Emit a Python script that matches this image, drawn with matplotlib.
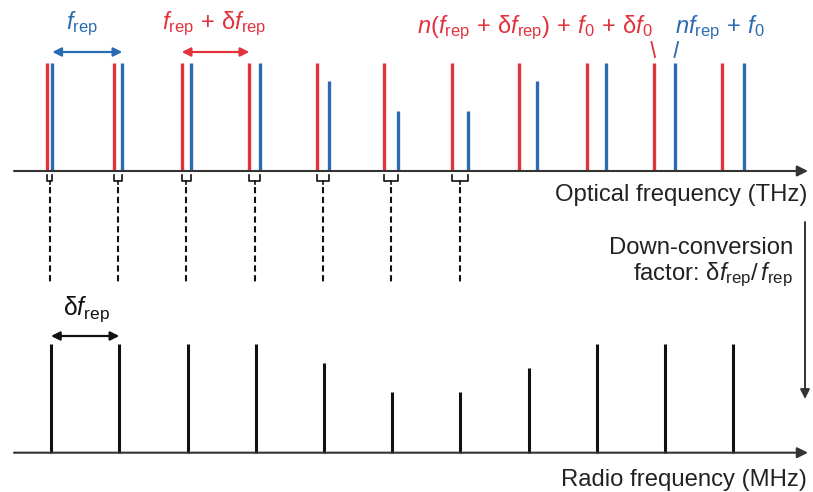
import numpy as np
import matplotlib
matplotlib.use("Agg")
import matplotlib.pyplot as plt

plt.rcParams['font.family'] = ['Liberation Sans', 'DejaVu Sans']
plt.rcParams['mathtext.fontset'] = 'custom'
plt.rcParams['mathtext.rm'] = 'Liberation Sans'
plt.rcParams['mathtext.it'] = 'Liberation Sans:italic'
plt.rcParams['mathtext.bf'] = 'Liberation Sans:bold'

# ---------------- data ----------------
# comb line frequencies (arbitrary units along the frequency axis)
red_freq = [46.7, 114.3, 181.7, 249.3, 316.7, 384.3, 451.7, 519.0, 586.7, 654.0, 721.7]
blue_freq = [52.3, 122.3, 190.7, 260.0, 329.3, 398.3, 467.7, 536.7, 606.0, 675.3, 744.3]
rf_freq = [51.0, 119.3, 187.7, 255.7, 323.7, 392.3, 460.3, 528.7, 596.7, 665.0, 733.0]
# relative amplitudes
red_amp = [1.0, 1.0, 1.0, 1.0, 1.0, 1.0, 1.0, 1.0, 1.0, 1.0, 1.0]
blue_amp = [1.0, 1.0, 1.0, 1.0, 0.83, 0.56, 0.56, 0.83, 1.0, 1.0, 1.0]
rf_amp = [1.0, 1.0, 1.0, 1.0, 0.83, 0.56, 0.56, 0.78, 1.0, 1.0, 1.0]
n_mapped = 7  # number of optical line pairs mapped down to RF

RED = '#E2323C'
BLUE = '#2B6BB2'
BLACK = '#111111'
AXC = '#333333'

W, H = 813, 492
fig = plt.figure(figsize=(W / 100, H / 100), dpi=100)


def make_axes(row0, row1, base_px, unit_px):
    ax = fig.add_axes([0, (H - row1) / H, 1, (row1 - row0) / H])
    ax.set_xlim(0, W)
    ax.set_ylim((base_px - row1) / unit_px, (base_px - row0) / unit_px)
    ax.axis('off')
    ax.patch.set_alpha(0)
    conv = lambda py: (base_px - py) / unit_px
    return ax, conv


ax1, y1 = make_axes(0, 250, 171, 108)
ax2, y2 = make_axes(250, 492, 452.7, 108.4)
ov = fig.add_axes([0, 0, 1, 1])
ov.set_xlim(0, W)
ov.set_ylim(H, 0)
ov.axis('off')
ov.patch.set_alpha(0)

FS = 17.2   # plain labels
FM = 17.0   # math labels
P = r'\,+\,'

# ---------- optical spectrum ----------
ax1.annotate('', xy=(808, 0), xytext=(14, 0),
             arrowprops=dict(arrowstyle='-|>', color=AXC, lw=1.5,
                             mutation_scale=16, shrinkA=0, shrinkB=0))
ax1.vlines(red_freq, 0, red_amp, colors=RED, lw=2.4, capstyle='butt')
ax1.vlines(blue_freq, 0, blue_amp, colors=BLUE, lw=2.4, capstyle='butt')

# brackets and dashed mapping lines
for r, b in zip(red_freq[:n_mapped], blue_freq[:n_mapped]):
    c = (r + b) / 2
    ax1.plot([r, r, b, b], [y1(175), y1(181), y1(181), y1(175)],
             color=BLACK, lw=1.2, solid_joinstyle='round')
    ax1.plot([c, c], [y1(181), y1(184)], color=BLACK, lw=1.2)
    ax1.plot([c, c], [y1(187), y1(282)], color=BLACK, lw=1.5,
             linestyle=(0, (3, 1.7)), clip_on=False)

# spacing arrows
ax1.annotate('', xy=(blue_freq[1], y1(52)), xytext=(blue_freq[0], y1(52)),
             arrowprops=dict(arrowstyle='<|-|>', color=BLUE, lw=1.6,
                             mutation_scale=13, shrinkA=0, shrinkB=0))
ax1.annotate('', xy=(red_freq[3], y1(52)), xytext=(red_freq[2], y1(52)),
             arrowprops=dict(arrowstyle='<|-|>', color=RED, lw=1.6,
                             mutation_scale=13, shrinkA=0, shrinkB=0))

ax1.text(82, y1(29), r'$\mathit{f}_{\mathrm{rep}}$', color=BLUE, fontsize=FM,
         ha='center', va='baseline')
ax1.text(214, y1(29), r'$\mathit{f}_{\mathrm{rep}}' + P + r'\mathrm{δ}\mathit{f}_{\mathrm{rep}}$',
         color=RED, fontsize=FM, ha='center', va='baseline')
ax1.text(535, y1(33),
         r'$\mathit{n}(\mathit{f}_{\mathrm{rep}}' + P + r'\mathrm{δ}\mathit{f}_{\mathrm{rep}})'
         + P + r'\mathit{f}_{0}' + P + r'\mathrm{δ}\mathit{f}_{0}$',
         color=RED, fontsize=FM, ha='center', va='baseline')
ax1.text(720, y1(33), r'$\mathit{nf}_{\mathrm{rep}}' + P + r'\mathit{f}_{0}$',
         color=BLUE, fontsize=FM, ha='center', va='baseline')
ax1.plot([651.5, 655], [y1(42), y1(57)], color=RED, lw=1.3)
ax1.plot([678, 674.5], [y1(42), y1(57)], color=BLUE, lw=1.3)

ov.text(807, 201, 'Optical frequency (THz)', fontsize=FS, color='#222222',
        ha='right', va='baseline')
ov.text(793, 254, 'Down-conversion', fontsize=FS, color='#222222',
        ha='right', va='baseline')
ov.text(793, 280, r'factor: $\mathrm{δ}\mathit{f}_{\mathrm{rep}}/\,\mathit{f}_{\mathrm{rep}}$',
        fontsize=FS, color='#222222', ha='right', va='baseline')
ov.annotate('', xy=(805, 399), xytext=(805, 222),
            arrowprops=dict(arrowstyle='-|>', color=AXC, lw=1.4,
                            mutation_scale=14, shrinkA=0, shrinkB=0))

# ---------- RF spectrum ----------
ax2.annotate('', xy=(808, 0), xytext=(14, 0),
             arrowprops=dict(arrowstyle='-|>', color=AXC, lw=1.5,
                             mutation_scale=16, shrinkA=0, shrinkB=0))
ax2.vlines(rf_freq, 0, rf_amp, colors=BLACK, lw=2.2, capstyle='butt')
ax2.annotate('', xy=(rf_freq[1], y2(336)), xytext=(rf_freq[0], y2(336)),
             arrowprops=dict(arrowstyle='<|-|>', color=BLACK, lw=1.6,
                             mutation_scale=13, shrinkA=0, shrinkB=0))
ax2.text(86, y2(315), r'$\mathrm{δ}\mathit{f}_{\mathrm{rep}}$', color=BLACK,
         fontsize=17.8, ha='center', va='baseline')
ov.text(807, 486, 'Radio frequency (MHz)', fontsize=FS, color='#222222',
        ha='right', va='baseline')

fig.savefig('out.png', dpi=100)
